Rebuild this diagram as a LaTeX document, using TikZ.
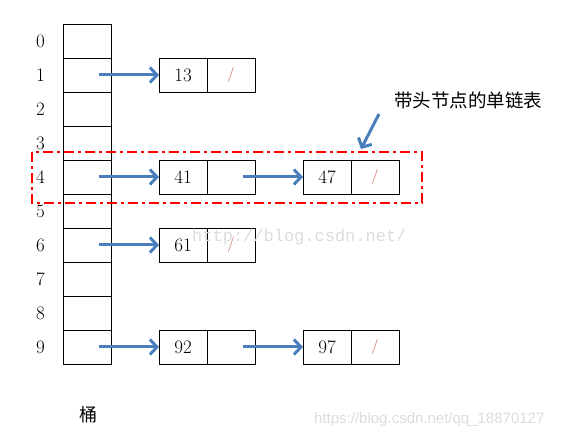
\documentclass[tikz,border=0pt]{standalone}
\usepackage{fontspec}
\newfontfamily\cjk{Noto Sans CJK SC}
\newfontfamily\wmsans{Liberation Sans}
\newfontfamily\wmmono{Liberation Mono}
\usetikzlibrary{arrows.meta,positioning}
\definecolor{arrblue}{RGB}{74,126,187}
\definecolor{nilred}{RGB}{196,84,64}
\definecolor{wmgray}{RGB}{220,220,220}
\newcommand{\nilmark}{{\color{nilred}\fontsize{15}{15}\selectfont /}}

\begin{document}
\begin{tikzpicture}[x=1pt, y=-1pt, font=\fontsize{19}{21}\selectfont, cell/.style={draw, line width=0.9pt, minimum width=48pt, minimum height=34pt, inner sep=0pt, outer sep=0pt}, idx/.style={inner sep=0pt}, arr/.style={-{Straight Barb[length=7pt,width=15pt]}, arrblue, line width=3pt}, frame/.style={red, line width=1.8pt, dash pattern=on 10pt off 4pt on 3pt off 4pt}]
\useasboundingbox (0,0) rectangle (568,438);
% bucket column
\node[cell] (b0) at (87,41) {};
\foreach \i [count=\j from 0] in {1,...,9}
  \node[cell, below=0pt of b\j] (b\i) {};
\foreach \i in {0,...,9}
  \node[idx, left=18pt of b\i] (i\i) {\i};
\node (bucket) at (88,415) {\cjk\fontsize{18}{20}\selectfont 桶};
% lists
\node[cell, right=48pt of b1] (k13) {13};
\node[cell, right=0pt of k13] (p13) {\nilmark};
\node[cell, right=48pt of b4] (k41) {41};
\node[cell, right=0pt of k41] (p41) {};
\node[cell, right=48pt of p41] (k47) {47};
\node[cell, right=0pt of k47] (p47) {\nilmark};
\node[cell, right=48pt of b6] (k61) {61};
\node[cell, right=0pt of k61] (p61) {\nilmark};
\node[cell, right=48pt of b9] (k92) {92};
\node[cell, right=0pt of k92] (p92) {};
\node[cell, right=48pt of p92] (k97) {97};
\node[cell, right=0pt of k97] (p97) {\nilmark};
\draw[arr] ([xshift=12pt]b1.center) -- (k13);
\draw[arr] ([xshift=12pt]b4.center) -- (k41);
\draw[arr] ([xshift=12pt]p41.center) -- (k47);
\draw[arr] ([xshift=12pt]b6.center) -- (k61);
\draw[arr] ([xshift=12pt]b9.center) -- (k92);
\draw[arr] ([xshift=12pt]p92.center) -- (k97);
% highlighted list
\draw[frame] (32,152) rectangle (422,203);
\node (note) at (468,100) {\cjk\fontsize{18.5}{20}\selectfont 带头节点的单链表};
\coordinate (notefrom) at (379,114);
\coordinate (notetip) at (361,149);
\draw[arr] (notefrom) -- (notetip);
% watermarks
\node[text=wmgray, font=\wmmono\fontsize{17}{17}\selectfont, anchor=west, inner sep=0pt] (wm1) at (192,237) {http://blog.csdn.net/};
\node[text=wmgray, font=\wmsans\fontsize{15}{15}\selectfont, anchor=west, inner sep=0pt] (wm2) at (314,420) {https://blog.csdn.net/qq\_18870127};
\end{tikzpicture}
\end{document}
